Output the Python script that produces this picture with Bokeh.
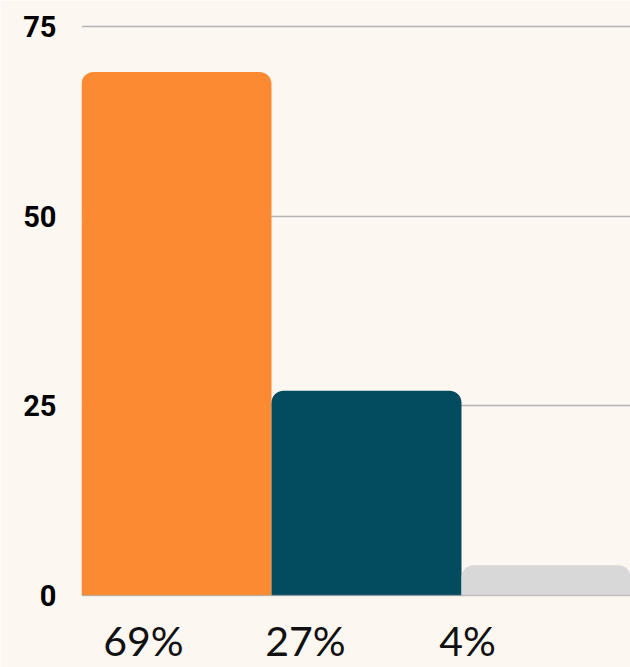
from bokeh.plotting import figure
from bokeh.models import Range1d, FixedTicker, ColumnDataSource, Span
from bokeh.embed import file_html
from bokeh.resources import INLINE
from bokeh.core.properties import value

# data
labels = ["69%", "27%", "4%"]
values = [69, 27, 4]
y_ticks = [0, 25, 50, 75]

# style / layout
bar_colors = ["#FC8A32", "#034B5F", "#D8D8D8"]
BG = "#FCF7F1"
W, H = 630, 667
LEFT, TOP = 81, 16
Y75, Y0 = 26, 595
BAR_PX = 190.0
frame_w = W - LEFT
px_per_unit = (Y0 - Y75) / 75.0
y_top = 75 + (Y75 - TOP) / px_per_unit
y_bottom = -(H - Y0) / px_per_unit

xs = list(range(len(values)))
src = ColumnDataSource(dict(x=xs, top=values, color=bar_colors, label=labels,
                            lx=[-0.5 + (62 + 162 * i) / BAR_PX for i in xs],
                            zero=[0] * len(xs)))

p = figure(width=W, height=H, output_backend="svg", toolbar_location=None,
           x_range=Range1d(-0.5, -0.5 + frame_w / BAR_PX),
           y_range=Range1d(y_bottom, y_top),
           min_border_left=LEFT, min_border_top=TOP, min_border_right=0, min_border_bottom=0)
p.background_fill_color = BG
p.border_fill_color = BG
p.outline_line_color = None

p.vbar(x="x", top="top", bottom=0, width=1.0, fill_color="color", line_color=None,
       border_radius=(12, 12, 0, 0), source=src)

p.add_layout(Span(location=0, dimension="width", line_color="#9a9a9a", line_alpha=0.55,
                  line_width=1.5, level="overlay"))

p.text(x="lx", y="zero", text="label", source=src, text_align="center",
       text_baseline="middle", y_offset=45, text_font=value("Lato"),
       text_font_size="41px", text_color="#111111")

p.xaxis.visible = False
ya = p.yaxis[0]
ya.ticker = FixedTicker(ticks=y_ticks)
ya.axis_line_color = None
ya.major_tick_line_color = None
ya.minor_tick_line_color = None
ya.major_label_standoff = 19
ya.major_label_text_font = "Roboto"
ya.major_label_text_font_style = "bold"
ya.major_label_text_font_size = "29px"
ya.major_label_text_color = "#000000"

p.xgrid.visible = False
p.ygrid.ticker = FixedTicker(ticks=y_ticks[1:])
p.ygrid.grid_line_color = "#b5b5b5"
p.ygrid.grid_line_width = 1.5

open("out.html", "w").write(file_html(p, INLINE))
